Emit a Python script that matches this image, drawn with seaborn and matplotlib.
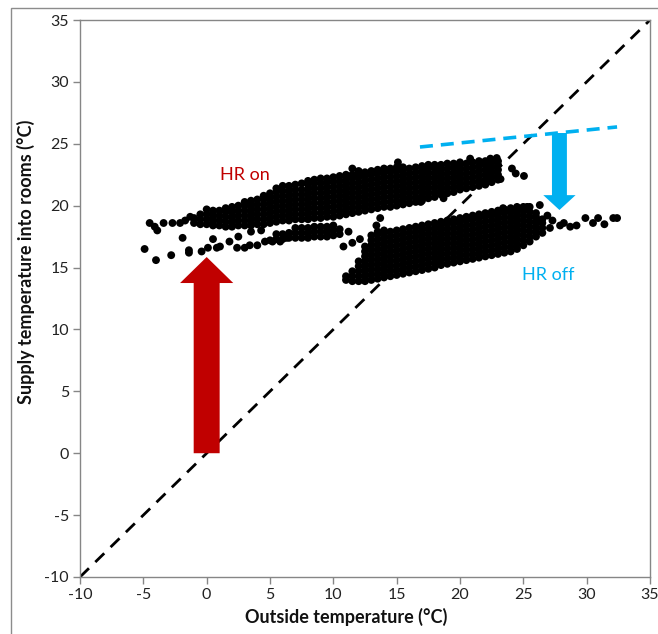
import matplotlib
matplotlib.use("Agg")
import matplotlib.pyplot as plt
from matplotlib.patches import FancyArrow, Rectangle
import pandas as pd
import seaborn as sns

# ---- Measured supply vs. outside temperatures (°C) ----
# Heat recovery ON: dense band, one column of readings per outside temperature
hr_on_columns = [
    (-1.0, [18.6, 19.0]),
    (-0.5, [18.5, 18.9, 19.3]),
    (0.0, [18.5, 18.9, 19.3, 19.7]),
    (0.5, [18.4, 18.8, 19.2, 19.6]),
    (1.0, [18.4, 18.8, 19.2, 19.6]),
    (1.5, [18.3, 18.7, 19.1, 19.5, 19.8]),
    (2.0, [18.3, 18.7, 19.1, 19.5, 19.9]),
    (2.5, [18.4, 18.8, 19.2, 19.6, 20.0]),
    (3.0, [18.4, 18.8, 19.2, 19.6, 20.0, 20.3]),
    (3.5, [18.4, 18.8, 19.2, 19.6, 20.0, 20.4]),
    (4.0, [18.5, 18.9, 19.3, 19.7, 20.1, 20.5]),
    (4.5, [18.5, 18.9, 19.3, 19.7, 20.1, 20.5, 20.8]),
    (5.0, [18.6, 19.0, 19.4, 19.8, 20.2, 20.6, 21.0]),
    (5.5, [18.7, 19.1, 19.5, 19.9, 20.3, 20.7, 21.1, 21.4]),
    (6.0, [18.8, 19.2, 19.6, 20.0, 20.4, 20.8, 21.2, 21.6]),
    (6.5, [18.8, 19.2, 19.6, 20.0, 20.4, 20.8, 21.2, 21.6]),
    (7.0, [18.9, 19.3, 19.7, 20.1, 20.5, 20.9, 21.3, 21.7]),
    (7.5, [18.9, 19.3, 19.7, 20.1, 20.5, 20.9, 21.3, 21.8]),
    (8.0, [18.9, 19.3, 19.7, 20.1, 20.5, 20.9, 21.3, 21.7, 22.0]),
    (8.5, [19.0, 19.4, 19.8, 20.2, 20.6, 21.0, 21.4, 21.8, 22.1]),
    (9.0, [19.0, 19.4, 19.8, 20.2, 20.6, 21.0, 21.4, 21.8, 22.2]),
    (9.5, [19.1, 19.5, 19.9, 20.3, 20.7, 21.1, 21.5, 21.9, 22.2]),
    (10.0, [19.1, 19.5, 19.9, 20.3, 20.7, 21.1, 21.5, 21.9, 22.3]),
    (10.5, [19.2, 19.6, 20.0, 20.4, 20.8, 21.2, 21.6, 22.0, 22.4]),
    (11.0, [19.3, 19.7, 20.1, 20.5, 20.9, 21.3, 21.7, 22.1, 22.5]),
    (11.5, [19.4, 19.8, 20.2, 20.6, 21.0, 21.4, 21.8, 22.2, 22.5]),
    (12.0, [19.5, 19.9, 20.3, 20.7, 21.1, 21.5, 21.9, 22.3, 22.6]),
    (12.5, [19.6, 20.0, 20.4, 20.8, 21.2, 21.6, 22.0, 22.4, 22.7]),
    (13.0, [19.7, 20.1, 20.5, 20.9, 21.3, 21.7, 22.1, 22.5, 22.8]),
    (13.5, [19.8, 20.2, 20.6, 21.0, 21.4, 21.8, 22.2, 22.6, 22.9]),
    (14.0, [19.9, 20.3, 20.7, 21.1, 21.5, 21.9, 22.3, 22.7, 23.0]),
    (14.5, [19.9, 20.3, 20.7, 21.1, 21.5, 21.9, 22.3, 22.7, 23.0]),
    (15.0, [20.0, 20.4, 20.8, 21.2, 21.6, 22.0, 22.4, 22.8, 23.1]),
    (15.5, [20.1, 20.5, 20.9, 21.3, 21.7, 22.1, 22.5, 22.9, 23.1]),
    (16.0, [20.2, 20.6, 21.0, 21.4, 21.8, 22.2, 22.6, 23.0]),
    (16.5, [20.3, 20.7, 21.1, 21.5, 21.9, 22.3, 22.7, 23.1]),
    (17.0, [20.4, 20.8, 21.2, 21.6, 22.0, 22.4, 22.8, 23.2]),
    (17.5, [20.6, 21.0, 21.4, 21.8, 22.2, 22.6, 23.0, 23.3]),
    (18.0, [20.7, 21.1, 21.5, 21.9, 22.3, 22.7, 23.1, 23.3]),
    (18.5, [20.9, 21.3, 21.7, 22.1, 22.5, 22.9, 23.3]),
    (19.0, [21.0, 21.4, 21.8, 22.2, 22.6, 23.0, 23.4]),
    (19.5, [21.1, 21.5, 21.9, 22.3, 22.7, 23.1, 23.4]),
    (20.0, [21.3, 21.7, 22.1, 22.5, 22.9, 23.3, 23.5]),
    (20.5, [21.4, 21.8, 22.2, 22.6, 23.0, 23.4]),
    (21.0, [21.5, 21.9, 22.3, 22.7, 23.1, 23.5]),
    (21.5, [21.6, 22.0, 22.4, 22.8, 23.2, 23.6]),
    (22.0, [21.7, 22.1, 22.5, 22.9, 23.3, 23.6]),
    (22.5, [21.9, 22.3, 22.7, 23.1, 23.5]),
    (23.0, [22.1, 22.5, 22.9, 23.3, 23.6]),
]

# Heat recovery ON: lower branch around 17-18 °C
hr_on_branch_columns = [
    (5.0, [17.2]),
    (5.5, [17.3, 17.7]),
    (6.0, [17.3, 17.7]),
    (6.5, [17.4, 17.8]),
    (7.0, [17.4, 17.8, 18.2]),
    (7.5, [17.4, 17.8, 18.2]),
    (8.0, [17.4, 17.8, 18.2]),
    (8.5, [17.5, 17.9, 18.3]),
    (9.0, [17.5, 17.9, 18.3]),
    (9.5, [17.5, 17.9, 18.3]),
    (10.0, [17.6, 18.0, 18.4]),
    (10.5, [17.7, 18.1]),
]

# Heat recovery ON: sparse readings (cold tail, lower branch, stragglers)
hr_on_extra_x = [-4.5, -4.1, -3.9, -3.4, -2.7, -2.1, -1.7, -1.3,
                 -4.9, -4.0, -2.8, -1.9, -1.4, -1.4, -0.4, 0.1, 0.5, 0.8,
                 1.05, 1.8, 2.5, 2.4, 3.0, 3.4, 4.0, 4.6, 5.2, 5.8, 6.3,
                 3.5, 4.3, 11.2,
                 11.5, 12.0, 15.1, 20.8, 22.9, 22.4,
                 24.1, 24.4, 25.05, 23.2, 16.9, 18.7, 13.4, 13.7]
hr_on_extra_y = [18.6, 18.3, 18.0, 18.6, 18.6, 18.6, 18.8, 19.1,
                 16.5, 15.6, 16.0, 17.4, 16.4, 16.2, 16.3, 16.6, 17.3, 16.6,
                 16.7, 17.1, 17.5, 16.6, 16.6, 16.8, 16.8, 17.1, 17.1, 17.1, 17.4,
                 17.9, 18.0, 17.9,
                 23.0, 22.8, 23.5, 23.8, 23.85, 23.8,
                 23.0, 22.6, 22.4, 22.15, 20.3, 20.6, 18.4, 19.0]

# Heat recovery OFF: dense band
hr_off_columns = [
    (11.0, [14.0, 14.3]),
    (11.5, [13.9, 14.3, 14.7]),
    (12.0, [13.9, 14.3, 14.7, 15.1, 15.5]),
    (12.5, [13.9, 14.3, 14.7, 15.1, 15.5, 15.9, 16.3, 16.7]),
    (13.0, [14.0, 14.4, 14.8, 15.2, 15.6, 16.0, 16.4, 16.8, 17.2, 17.6]),
    (13.5, [14.1, 14.5, 14.9, 15.3, 15.7, 16.1, 16.5, 16.9, 17.3, 17.7, 17.9]),
    (14.0, [14.2, 14.6, 15.0, 15.4, 15.8, 16.2, 16.6, 17.0, 17.4, 17.8, 18.0]),
    (14.5, [14.3, 14.7, 15.1, 15.5, 15.9, 16.3, 16.7, 17.1, 17.5, 17.9]),
    (15.0, [14.4, 14.8, 15.2, 15.6, 16.0, 16.4, 16.8, 17.2, 17.6, 18.0]),
    (15.5, [14.5, 14.9, 15.3, 15.7, 16.1, 16.5, 16.9, 17.3, 17.7, 18.1]),
    (16.0, [14.6, 15.0, 15.4, 15.8, 16.2, 16.6, 17.0, 17.4, 17.8, 18.2]),
    (16.5, [14.7, 15.1, 15.5, 15.9, 16.3, 16.7, 17.1, 17.5, 17.9, 18.3]),
    (17.0, [14.8, 15.2, 15.6, 16.0, 16.4, 16.8, 17.2, 17.6, 18.0, 18.4]),
    (17.5, [14.9, 15.3, 15.7, 16.1, 16.5, 16.9, 17.3, 17.7, 18.1, 18.5]),
    (18.0, [15.0, 15.4, 15.8, 16.2, 16.6, 17.0, 17.4, 17.8, 18.2, 18.6]),
    (18.5, [15.2, 15.6, 16.0, 16.4, 16.8, 17.2, 17.6, 18.0, 18.4, 18.7]),
    (19.0, [15.3, 15.7, 16.1, 16.5, 16.9, 17.3, 17.7, 18.1, 18.5, 18.8]),
    (19.5, [15.4, 15.8, 16.2, 16.6, 17.0, 17.4, 17.8, 18.2, 18.6, 18.9]),
    (20.0, [15.5, 15.9, 16.3, 16.7, 17.1, 17.5, 17.9, 18.3, 18.7, 19.0]),
    (20.5, [15.6, 16.0, 16.4, 16.8, 17.2, 17.6, 18.0, 18.4, 18.8, 19.1]),
    (21.0, [15.7, 16.1, 16.5, 16.9, 17.3, 17.7, 18.1, 18.5, 18.9, 19.2]),
    (21.5, [15.8, 16.2, 16.6, 17.0, 17.4, 17.8, 18.2, 18.6, 19.0, 19.3]),
    (22.0, [15.9, 16.3, 16.7, 17.1, 17.5, 17.9, 18.3, 18.7, 19.1, 19.4]),
    (22.5, [16.0, 16.4, 16.8, 17.2, 17.6, 18.0, 18.4, 18.8, 19.2, 19.5]),
    (23.0, [16.1, 16.5, 16.9, 17.3, 17.7, 18.1, 18.5, 18.9, 19.3, 19.6]),
    (23.5, [16.2, 16.6, 17.0, 17.4, 17.8, 18.2, 18.6, 19.0, 19.4, 19.7]),
    (24.0, [16.3, 16.7, 17.1, 17.5, 17.9, 18.3, 18.7, 19.1, 19.5, 19.8]),
    (24.5, [16.5, 16.9, 17.3, 17.7, 18.1, 18.5, 18.9, 19.3, 19.6, 19.9]),
    (25.0, [16.8, 17.2, 17.6, 18.0, 18.4, 18.8, 19.2, 19.6, 19.9]),
    (25.5, [17.1, 17.5, 17.9, 18.3, 18.7, 19.1, 19.5, 19.9]),
    (26.0, [17.5, 17.9, 18.3, 18.7, 19.1, 19.4]),
    (26.5, [17.8, 18.2, 18.6, 18.9]),
]

# Heat recovery OFF: sparse readings (warm tail and stragglers)
hr_off_extra_x = [10.8, 11.5, 12.1, 23.4, 25.3, 26.3, 26.9, 27.3, 27.9, 28.7,
                  29.2, 29.9, 30.5, 30.9, 31.4, 32.1, 32.4, 27.1, 28.2]
hr_off_extra_y = [16.7, 17.0, 17.3, 19.8, 19.9, 20.05, 19.2, 18.8, 18.4, 18.3,
                  18.4, 19.0, 18.6, 19.0, 18.5, 19.0, 19.0, 18.2, 18.6]

# Annotation values
axis_min, axis_max = -10, 35
tick_values = list(range(-10, 36, 5))
hr_on_arrow = dict(x=0.0, y_start=0.0, y_end=15.85)
hr_off_arrow = dict(x=27.85, y_start=25.87, y_end=19.65)
hr_off_line_x = [16.84, 32.4]
hr_off_line_y = [24.74, 26.36]

RED = "#C00000"
BLUE = "#00B0F0"
GREY = "#868686"

# ---- Long-form table of all readings ----
records = []
for cols in (hr_on_columns, hr_on_branch_columns):
    for x, ys in cols:
        records += [(x, y) for y in ys]
records += list(zip(hr_on_extra_x, hr_on_extra_y))
for x, ys in hr_off_columns:
    records += [(x, y) for y in ys]
records += list(zip(hr_off_extra_x, hr_off_extra_y))
df = pd.DataFrame(records, columns=["outside", "supply"])

sns.set_theme(style="white")
plt.rcParams["font.family"] = ["Lato", "DejaVu Sans"]

fig = plt.figure(figsize=(6.58, 6.34), dpi=100)
ax = fig.add_axes([80 / 658, 57 / 634, 570 / 658, 557 / 634])

# Thin frame of the chart area
fig.patches.append(Rectangle((11 / 658, -0.05), 1.0, 1.05 - 8 / 634,
                             transform=fig.transFigure, fill=False,
                             edgecolor="#8c8c8c", linewidth=1.0))

# y = x reference line
sns.lineplot(x=[axis_min, axis_max], y=[axis_min, axis_max], ax=ax,
             color="black", linewidth=2.0, zorder=2)
ax.lines[-1].set_dashes([4.5, 3.2])

# Readings
sns.scatterplot(data=df, x="outside", y="supply", ax=ax, color="black",
                s=32, linewidth=0, edgecolor="none", zorder=3)

# Supply level without heat recovery
sns.lineplot(x=hr_off_line_x, y=hr_off_line_y, ax=ax, color=BLUE,
             linewidth=2.6, zorder=2)
ax.lines[-1].set_dashes([3.6, 2.2])

# Block arrows
ax.add_patch(FancyArrow(hr_on_arrow["x"], hr_on_arrow["y_start"], 0,
                        hr_on_arrow["y_end"] - hr_on_arrow["y_start"],
                        width=2.05, head_width=4.2, head_length=2.1,
                        length_includes_head=True, color=RED, linewidth=0,
                        zorder=4))
ax.add_patch(FancyArrow(hr_off_arrow["x"], hr_off_arrow["y_start"], 0,
                        hr_off_arrow["y_end"] - hr_off_arrow["y_start"],
                        width=1.18, head_width=2.55, head_length=1.2,
                        length_includes_head=True, color=BLUE, linewidth=0,
                        zorder=4))

ax.text(3.0, 22.5, "HR on", color=RED, fontsize=13, ha="center", va="center")
ax.text(27.0, 14.4, "HR off", color=BLUE, fontsize=13, ha="center", va="center")

# Axes styling
ax.set_xlim(axis_min, axis_max)
ax.set_ylim(axis_min, axis_max)
ax.set_xticks(tick_values)
ax.set_yticks(tick_values)
ax.set_xticklabels([str(v) for v in tick_values])
ax.set_yticklabels([str(v) for v in tick_values])
for spine in ax.spines.values():
    spine.set_color(GREY)
    spine.set_linewidth(1.0)
ax.tick_params(axis="both", which="major", direction="out", length=5,
               width=1.0, color=GREY, labelsize=11.5, labelcolor="#222222",
               bottom=True, left=True, top=False, right=False, pad=3)
ax.grid(False)

ax.set_xlabel("Outside temperature (°C)", fontsize=13, fontweight="bold",
              color="#111111")
ax.set_ylabel("Supply temperature into rooms (°C)", fontsize=13,
              fontweight="bold", color="#111111")
ax.xaxis.set_label_coords(0.467, -0.055)
ax.yaxis.set_label_coords(-0.079, 0.566)

fig.savefig("out.png", dpi=100)
